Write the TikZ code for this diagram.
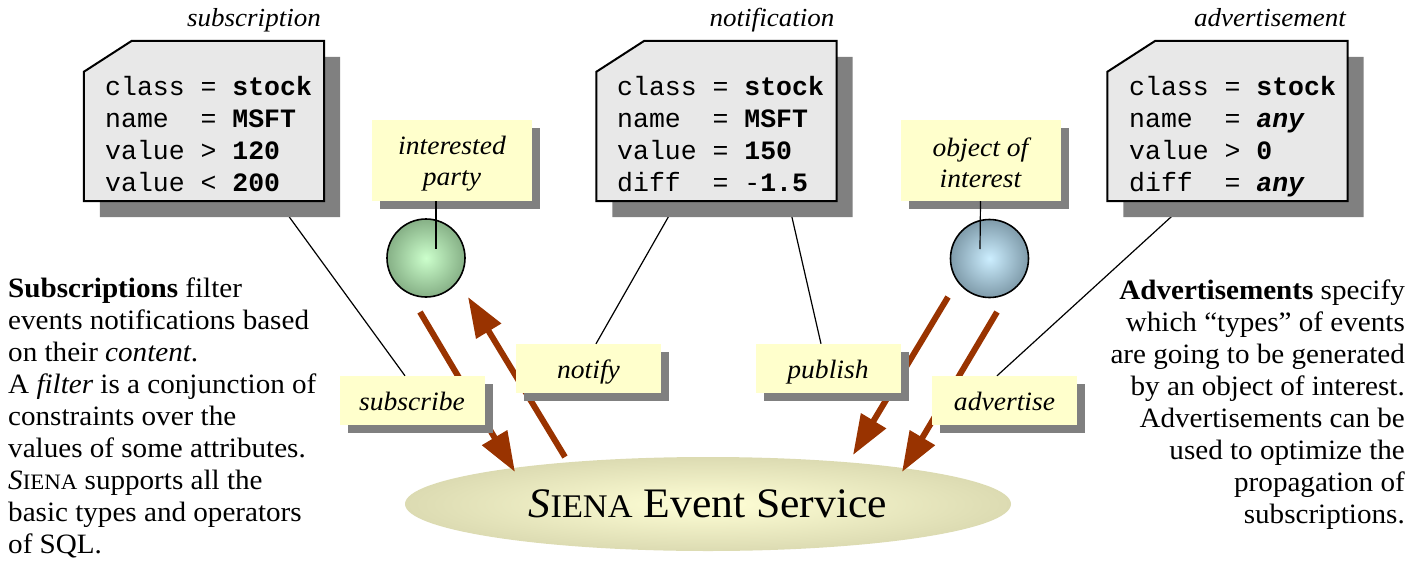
\documentclass[tikz,border=0pt]{standalone}
\usepackage{fontspec}
\setmainfont[FakeStretch=1.04]{Liberation Serif}
\setmonofont{Liberation Mono}
\usetikzlibrary{arrows.meta,shapes.geometric,shadows}
\definecolor{boxgray}{HTML}{E8E8E8}
\definecolor{shadowgray}{HTML}{808080}
\definecolor{labelyellow}{HTML}{FFFFCC}
\definecolor{arrowred}{HTML}{993300}
\definecolor{ellin}{HTML}{FFFFD6}
\definecolor{ellout}{HTML}{DCDBB2}
\definecolor{greenin}{HTML}{CCFFCC}
\definecolor{greenout}{HTML}{86B086}
\definecolor{bluein}{HTML}{CCEEFF}
\definecolor{blueout}{HTML}{7F9BAA}
\newcommand\boxmono{\fontsize{26.5}{32}\selectfont\ttfamily}
\newcommand\lblfont{\fontsize{26.5}{31}\selectfont\itshape}
\newcommand\ttlfont{\fontsize{26}{31}\selectfont\itshape}
\newcommand\bodyfont{\fontsize{28}{32}\selectfont}
\newcommand\firststrut{\rule{0pt}{24pt}}
\tikzset{
  boxframe/.style={rectangle, minimum width=240pt, minimum height=160pt, inner sep=0pt},
  boxpath/.style={fill=boxgray, draw=black, line width=2pt, line join=miter,
    drop shadow={shadow xshift=16pt, shadow yshift=-16pt, fill=shadowgray, opacity=1}},
  monoline/.style={font=\boxmono, inner sep=0pt, anchor=base west},
  titletext/.style={font=\ttlfont, inner sep=0pt, anchor=base},
  labelbox/.style={fill=labelyellow, inner sep=0pt, font=\lblfont,
    drop shadow={shadow xshift=8pt, shadow yshift=-8pt, fill=shadowgray, opacity=1}},
  onelabel/.style={labelbox, minimum width=145pt, minimum height=49pt, text height=19pt, text depth=0pt},
  twolabel/.style={labelbox, minimum width=160pt, minimum height=81pt, align=center},
  flowarrow/.style={draw=arrowred, line width=6pt, -{Triangle[length=40pt,width=28pt]}, arrowred},
  thinline/.style={draw=black, line width=1.2pt},
  ball/.style={circle, minimum size=78pt, inner sep=0pt, draw=black, line width=1.6pt, shading=radial},
  bodytext/.style={font=\bodyfont, inner sep=0pt}
}
\begin{document}
\begin{tikzpicture}[x=1pt,y=-1pt]
\useasboundingbox (0,0) rectangle (1428,560);

% event service
\node[ellipse, minimum width=606pt, minimum height=94pt, inner sep=0pt,
      shading=radial, inner color=ellin, outer color=ellout] (ses) at (708,504) {};
\node[font=\fontsize{42}{42}\selectfont, inner sep=0pt, anchor=base] (sestext) at (708,517)
  {\textit{S}{\fontsize{33}{42}\selectfont IENA} Event Service};

% arrows
\coordinate (subA) at (420,312); \coordinate (subB) at (515,472);
\coordinate (notA) at (565,457); \coordinate (notB) at (468,297);
\coordinate (pubA) at (948,297); \coordinate (pubB) at (853,455);
\coordinate (advA) at (997,312); \coordinate (advB) at (902,472);
\draw[flowarrow] (subA) -- (subB);
\draw[flowarrow] (notA) -- (notB);
\draw[flowarrow] (pubA) -- (pubB);
\draw[flowarrow] (advA) -- (advB);

% boxes (frames)
\node[boxframe] (subbox) at (204,121) {};
\node[boxframe] (notbox) at (716.5,121) {};
\node[boxframe] (advbox) at (1227.5,121) {};

% labels
\node[onelabel] (sublabel) at (412,400.5) {subscribe};
\node[onelabel] (notlabel) at (588.5,368.5) {notify};
\node[onelabel] (publabel) at (828,368.5) {publish};
\node[onelabel] (advlabel) at (1004.5,400.5) {advertise};

% connectors from boxes to labels
\draw[thinline] ([xshift=194pt]subbox.south west) -- ([xshift=-7pt]sublabel.north);
\draw[thinline] ([xshift=81pt]notbox.south west) -- ([xshift=7.5pt]notlabel.north);
\draw[thinline] ([xshift=192pt]notbox.south west) -- ([xshift=-7pt]publabel.north);
\draw[thinline] ([xshift=81pt]advbox.south west) -- ([xshift=-7.5pt]advlabel.north);

% balls
\node[ball, inner color=greenin, outer color=greenout] (ipball) at (426,258) {};
\node[ball, inner color=bluein, outer color=blueout] (oiball) at (989.5,258.5) {};
\node[twolabel] (iplabel) at (452,160.5) {\firststrut interested\\party};
\node[twolabel] (oilabel) at (980.5,160.5) {\firststrut object of\\interest};
\draw[thinline] ([xshift=-16pt]iplabel.south) -- ([xshift=10pt,yshift=9pt]ipball.center);
\draw[thinline] (oilabel.south) -- ([xshift=-9.5pt,yshift=9.5pt]oiball.center);

% box shapes
\foreach \b in {subbox,notbox,advbox}
  \filldraw[boxpath] ([yshift=-31pt]\b.north west) -- ([xshift=48pt]\b.north west)
    -- (\b.north east) -- (\b.south east) -- (\b.south west) -- cycle;

% box texts
\node[monoline] (sub1) at (105,95)  {class = \textbf{stock}};
\node[monoline] (sub2) at (105,127) {name\ \ = \textbf{MSFT}};
\node[monoline] (sub3) at (105,159) {value > \textbf{120}};
\node[monoline] (sub4) at (105,191) {value < \textbf{200}};
\node[monoline] (not1) at (617,95)  {class = \textbf{stock}};
\node[monoline] (not2) at (617,127) {name\ \ = \textbf{MSFT}};
\node[monoline] (not3) at (617,159) {value = \textbf{150}};
\node[monoline] (not4) at (617,191) {diff\ \ = -\textbf{1.5}};
\node[monoline] (adv1) at (1129,95)  {class = \textbf{stock}};
\node[monoline] (adv2) at (1129,127) {name\ \ = \textbf{\textit{any}}};
\node[monoline] (adv3) at (1129,159) {value > \textbf{0}};
\node[monoline] (adv4) at (1129,191) {diff\ \ = \textbf{\textit{any}}};

% titles
\node[titletext] (subtitle) at (254,26) {subscription};
\node[titletext] (nottitle) at (772,26) {notification};
\node[titletext] (advtitle) at (1270,26) {advertisement};

% side texts
\node[bodytext, align=left, anchor=north west] (lefttext) at (8,278)
  {\textbf{Subscriptions} filter\\
   events notifications based\\
   on their \textit{content}.\\
   A \textit{filter} is a conjunction of\\
   constraints over the\\
   values of some attributes.\\
   \textit{S}{\fontsize{22}{32}\selectfont IENA} supports all the\\
   basic types and operators\\
   of SQL.};
\node[bodytext, align=right, anchor=north east] (righttext) at (1405,280)
  {\textbf{Advertisements} specify\\
   which “types” of events\\
   are going to be generated\\
   by an object of interest.\\
   Advertisements can be\\
   used to optimize the\\
   propagation of\\
   subscriptions.};
\end{tikzpicture}
\end{document}
